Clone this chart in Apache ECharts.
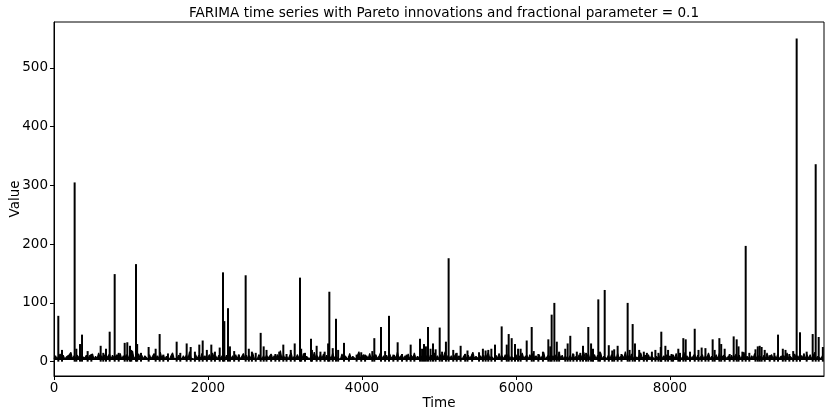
<!DOCTYPE html>
<html>
<head>
<meta charset="utf-8">
<script src="https://cdn.jsdelivr.net/npm/echarts@6/dist/echarts.min.js"></script>
<style>
html,body{margin:0;padding:0;background:#fff;}
#chart{width:825px;height:409px;}
</style>
</head>
<body>
<div id="chart"></div>
<script>
// background noise level, one reading every 20 time steps
var baseStep = 20;
var baseValues = [
5,10,4,9,13,5,11,4,8,5,12,16,4,10,6,11,14,4,9,12,
6,11,4,10,7,13,4,9,5,15,6,10,4,12,5,9,13,4,11,6,
4,12,5,14,4,10,6,12,4,11,5,18,4,9,6,13,5,11,4,10,
11,4,12,5,9,14,4,10,5,16,6,11,4,9,12,4,10,15,5,8,
6,11,13,4,10,5,12,4,17,6,9,4,12,5,11,4,14,6,10,4,
5,12,4,15,6,10,4,11,5,9,13,4,11,5,16,4,10,5,12,4,
12,4,9,14,5,11,4,10,5,15,6,9,4,12,13,4,10,5,11,6,
4,13,5,10,4,12,6,19,4,11,5,9,4,10,15,4,9,5,12,6,
10,4,14,5,9,12,4,11,5,16,6,10,4,12,5,13,4,11,5,9,
5,15,4,11,6,9,4,13,5,10,12,4,14,5,9,12,4,10,17,5,
6,12,4,10,5,14,4,11,6,12,5,9,15,4,10,5,11,4,13,6,
4,11,5,16,6,9,12,4,10,5,13,4,11,6,15,4,9,12,5,10,
11,4,9,13,5,11,4,15,6,10,4,12,5,9,17,4,11,5,10,4,
5,14,6,10,12,4,9,13,4,11,5,10,16,5,9,12,4,10,5,11,
4,10,15,5,9,12,4,11,5,14,6,10,4,12,5,13,4,9,11,5,
12,4,10,5,15,6,9,11,4,12,5,14,6,10,4,12,5,9,16,4,
6,11,13,4,10,5,12,4,15,6,11,4,9,12,5,10,4,14,5,9,
5,12,4,11,16,5,9,13,4,10,6,12,4,11,5,15,4,9,12,5,
11,4,12,5,10,4,14,6,9,11,5,17,4,10,5,13,4,9,11,6,
4,15,6,9,11,5,12,4,10,13,4,9,12,5,15,4,10,5,12,6,
10,4,11,5,14,4,9,12,5,16,6,10,4,12,5,9,13,4,11,5,
5,12,4,10,6,15,4,9,11,5,12,4,14,6,9,11,12,5,10,4,
11,4,9,13,5,11,4,10,16,5,9,12,4,10,6,14,4,11,5,9,
5,11,4,15,6,9,12,4,10,5,13,4,9,12,10,4,15,5,9,11,
4,13,5,10,4,11,6,14,4,12,5,12,4,10,16,4,9,11,5,10
];

// spikes
var spikeTimes = [
56,104,268,290,338,364,437,485,606,640,675,723,788,840,918,952,987,1004,1065,1080,
1130,1229,1320,1372,1420,1480,1593,1640,1723,1775,1830,1887,1931,1985,
2043,2090,2152,2195,2212,2260,2285,2340,2400,2489,2530,2570,2620,2684,2723,2760,
2820,2875,2925,2978,3020,3075,3126,3195,3210,3260,3338,3350,3411,3460,3515,3560,
3576,3620,3662,3690,3766,3830,3930,3990,
4040,4134,4160,4247,4300,4351,4407,4463,4520,4580,4632,4680,4753,4780,4805,4830,
4857,4890,4922,4956,5009,5040,5090,5125,5185,5230,5281,5340,5370,5430,5520,5570,
5605,5640,5680,5727,5814,5880,5905,5944,5987,6027,
6060,6139,6204,6230,6290,6350,6420,6445,6463,6498,6530,6560,6640,6671,6705,6745,
6790,6835,6870,6910,6939,6975,7000,7069,7090,7152,7205,7250,7275,7320,7370,7450,
7475,7515,7545,7600,7660,7700,7765,7810,7850,7880,7887,7940,7975,8020,
8040,8108,8130,8173,8204,8260,8321,8370,8411,8460,8500,8554,8580,8641,8665,8710,
8775,8827,8866,8890,8940,8983,9030,9110,9140,9165,9190,9230,9295,9355,9403,9465,
9500,9550,9600,9645,9688,9775,9853,9892,9931,9985
];
var spikeValues = [
78,20,305,22,30,46,18,12,27,15,22,51,149,15,32,33,27,20,166,30,
15,25,22,47,12,14,34,15,31,25,17,29,36,20,
29,17,24,152,69,91,26,18,12,147,22,17,15,49,26,20,
12,13,17,29,13,20,31,143,22,15,39,20,27,17,17,31,
119,23,73,20,32,10,12,16,
12,18,40,59,18,78,12,33,13,12,29,11,39,22,30,26,
59,22,31,21,58,17,34,176,20,15,27,13,19,12,16,22,
19,20,22,29,60,29,47,40,30,22,
22,36,59,18,13,17,38,26,80,100,34,17,22,31,44,13,
17,15,27,15,59,31,22,106,17,122,28,19,21,27,13,100,
20,64,31,20,17,15,17,20,15,25,51,27,20,13,
12,22,15,40,38,17,56,20,24,23,12,38,20,40,30,22,
13,43,38,26,17,197,15,21,26,27,25,20,11,15,46,22,
20,13,18,550,50,17,47,336,42,25
];

var xTicks = [0, 2000, 4000, 6000, 8000];
var yTicks = [0, 100, 200, 300, 400, 500];

function basePoints(){
    var pts = [];
    for (var i = 0; i < baseValues.length; i++) {
        pts.push([i * baseStep, baseValues[i]]);
    }
    return pts;
}

function spikePoints(){
    var pts = [];
    for (var j = 0; j < spikeTimes.length; j++) {
        pts.push([spikeTimes[j], spikeValues[j]]);
    }
    return pts;
}

function plainLabel(v){
    return String(v);
}

var chart = echarts.init(document.getElementById('chart'));
var font = 'DejaVu Sans';
chart.setOption({
    animation: false,
    title: {
        text: 'FARIMA time series with Pareto innovations and fractional parameter = 0.1',
        left: 439,
        top: 1,
        textAlign: 'center',
        textStyle: {fontFamily: font, fontSize: 13.6, fontWeight: 'normal', color: '#000'}
    },
    grid: {
        left: 54, right: 1, top: 22, bottom: 33,
        outerBoundsMode: 'none',
        containLabel: false,
        show: true, borderColor: '#000', borderWidth: 1
    },
    xAxis: {
        type: 'value',
        min: 0,
        max: 10000,
        name: 'Time',
        nameLocation: 'middle',
        nameGap: 20,
        nameMoveOverlap: false,
        nameTextStyle: {fontFamily: font, fontSize: 13.5, color: '#000'},
        splitLine: {show: false},
        axisLine: {show: true, onZero: false, lineStyle: {color: '#000'}},
        axisTick: {show: true, length: 4, customValues: xTicks, lineStyle: {color: '#000'}},
        axisLabel: {customValues: xTicks, formatter: plainLabel, margin: 5, fontFamily: font, fontSize: 13.5, color: '#000'}
    },
    yAxis: {
        type: 'value',
        min: -24.4,
        max: 578,
        name: 'Value',
        nameLocation: 'middle',
        nameGap: 32,
        nameMoveOverlap: false,
        nameRotate: 90,
        nameTextStyle: {fontFamily: font, fontSize: 13.5, color: '#000'},
        splitLine: {show: false},
        axisLine: {show: true, onZero: false, lineStyle: {color: '#000'}},
        axisTick: {show: true, length: 4, customValues: yTicks, lineStyle: {color: '#000'}},
        axisLabel: {customValues: yTicks, formatter: plainLabel, margin: 6, fontFamily: font, fontSize: 13.5, color: '#000'}
    },
    series: [{
        type: 'line',
        data: basePoints(),
        showSymbol: false,
        symbol: 'none',
        sampling: null,
        lineStyle: {color: '#000', width: 1.2},
        areaStyle: {color: '#000', opacity: 1, origin: 3},
        itemStyle: {color: '#000'},
        z: 3
    }, {
        type: 'bar',
        data: spikePoints(),
        barWidth: 2,
        itemStyle: {color: '#000'},
        z: 2
    }]
});
</script>
</body>
</html>
